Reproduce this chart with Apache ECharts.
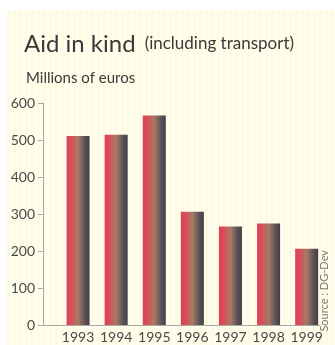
<!DOCTYPE html>
<html>
<head>
<meta charset="utf-8">
<script src="https://cdn.jsdelivr.net/npm/echarts@6/dist/echarts.min.js"></script>
<style>
  html, body { margin: 0; padding: 0; background: #ffffff; }
  #paper {
    position: absolute; left: 7px; top: 10px; width: 328px; height: 335px;
    background: repeating-linear-gradient(90deg, #fdfbe2 0px, #fdfbe2 3px, #fffdee 3px, #fffdee 6px);
  }
  #chart { position: absolute; left: 0; top: 0; width: 335px; height: 345px; }
</style>
</head>
<body>
<div id="paper"></div>
<div id="chart"></div>
<script>
// Aid in kind, millions of euros per year
const years = [1993, 1994, 1995, 1996, 1997, 1998, 1999];
const aidValues = [511, 514, 566, 306, 266, 274, 206];
const yTicks = [0, 100, 200, 300, 400, 500, 600];

const font = 'Lato, "Open Sans", sans-serif';

const chart = echarts.init(document.getElementById('chart'), null, { renderer: 'canvas' });

chart.setOption({
  backgroundColor: 'transparent',
  animation: false,
  title: [
    {
      left: 19, top: 27,
      text: '{a|Aid in kind} {b|(including transport)}',
      textStyle: {
        fontWeight: 'normal',
        rich: {
          a: { fontFamily: font, fontSize: 24, fontWeight: 'normal', color: '#3a3a3a' },
          b: { fontFamily: font, fontSize: 17, fontWeight: 'normal', color: '#3a3a3a', padding: [0, 0, 0, 4] }
        }
      }
    },
    {
      left: 21, top: 66,
      text: 'Millions of euros',
      textStyle: { fontFamily: font, fontSize: 15, fontWeight: 'normal', color: '#3a3a3a' }
    }
  ],
  grid: { left: 43, right: 15, top: 103, bottom: 20 },
  xAxis: {
    type: 'value',
    min: 1992.08,
    max: 1999.35,
    splitLine: { show: false },
    axisLine: { show: true, lineStyle: { color: '#a8a8a8', width: 1 } },
    axisTick: { show: false },
    axisLabel: {
      customValues: years,
      formatter: v => String(v),
      fontFamily: font, fontSize: 14, color: '#4a4a4a', margin: 5
    }
  },
  yAxis: {
    type: 'value',
    min: yTicks[0],
    max: yTicks[yTicks.length - 1],
    interval: 100,
    splitLine: { show: false },
    axisLine: { show: true, lineStyle: { color: '#a8a8a8', width: 1 } },
    axisTick: { show: true, length: 5, lineStyle: { color: '#a8a8a8' } },
    axisLabel: { fontFamily: font, fontSize: 14, color: '#4a4a4a', margin: 8 }
  },
  series: [{
    type: 'bar',
    barWidth: 23,
    data: years.map((y, i) => [y, aidValues[i]]),
    itemStyle: {
      color: new echarts.graphic.LinearGradient(0, 0, 1, 0, [
        { offset: 0, color: '#e43c5a' },
        { offset: 0.2, color: '#d84e5a' },
        { offset: 0.5, color: '#a87a64' },
        { offset: 0.8, color: '#5c5258' },
        { offset: 1, color: '#403e46' }
      ])
    }
  }],
  graphic: [{
    type: 'text',
    left: 319,
    top: 250,
    rotation: Math.PI / 2,
    style: {
      text: 'Source : DG-Dev',
      font: '11px ' + font,
      fill: '#7a7a7a'
    }
  }]
});
</script>
</body>
</html>
